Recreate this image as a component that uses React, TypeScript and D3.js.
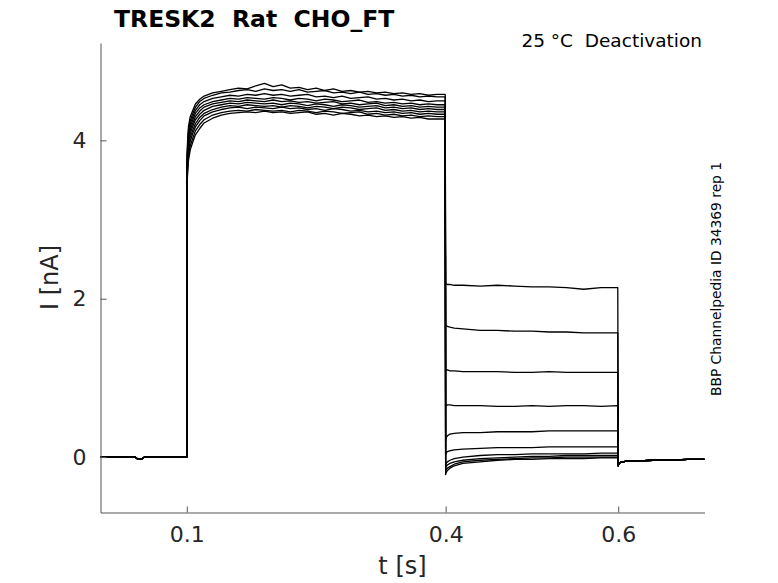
import { useEffect, useRef } from "react"
import * as d3 from "d3"

// time grids (s) for each protocol segment
const baseT = [0, 0.04, 0.043, 0.048, 0.051, 0.1]
const baseI = [0, 0, -0.025, -0.025, 0, 0]

const actT = [
  0.1, 0.1003, 0.101, 0.102, 0.104, 0.107, 0.11, 0.115, 0.12, 0.13, 0.14, 0.15, 0.16, 0.17, 0.18, 0.19,
  0.2, 0.21, 0.22, 0.23, 0.24, 0.25, 0.26, 0.27, 0.28, 0.29, 0.3, 0.31, 0.32, 0.33, 0.34, 0.35, 0.36,
  0.37, 0.38, 0.39, 0.3995,
]

const actI = [
  [3.52, 3.8, 4.02, 4.18, 4.3, 4.38, 4.46, 4.52, 4.56, 4.6, 4.62, 4.64, 4.66, 4.65, 4.69, 4.72, 4.68, 4.7, 4.66, 4.67, 4.64, 4.66, 4.63, 4.65, 4.62, 4.63, 4.61, 4.62, 4.6, 4.61, 4.59, 4.6, 4.58, 4.59, 4.57, 4.58, 4.58],
  [3.48, 3.74, 3.96, 4.12, 4.25, 4.34, 4.42, 4.49, 4.53, 4.57, 4.6, 4.61, 4.63, 4.64, 4.62, 4.65, 4.63, 4.64, 4.62, 4.64, 4.61, 4.62, 4.63, 4.6, 4.61, 4.59, 4.61, 4.58, 4.59, 4.57, 4.58, 4.56, 4.57, 4.55, 4.56, 4.55, 4.55],
  [3.45, 3.7, 3.92, 4.08, 4.21, 4.3, 4.38, 4.45, 4.49, 4.53, 4.55, 4.57, 4.56, 4.58, 4.57, 4.59, 4.57, 4.58, 4.56, 4.57, 4.58, 4.55, 4.56, 4.54, 4.56, 4.53, 4.54, 4.55, 4.52, 4.53, 4.51, 4.52, 4.5, 4.51, 4.49, 4.5, 4.5],
  [3.42, 3.66, 3.88, 4.04, 4.17, 4.26, 4.34, 4.41, 4.45, 4.49, 4.51, 4.53, 4.52, 4.54, 4.53, 4.52, 4.54, 4.53, 4.51, 4.53, 4.52, 4.5, 4.52, 4.51, 4.49, 4.5, 4.51, 4.48, 4.49, 4.47, 4.48, 4.46, 4.47, 4.45, 4.46, 4.45, 4.45],
  [3.4, 3.62, 3.84, 4.0, 4.13, 4.22, 4.3, 4.37, 4.42, 4.46, 4.48, 4.5, 4.49, 4.51, 4.5, 4.49, 4.51, 4.49, 4.5, 4.48, 4.49, 4.47, 4.48, 4.49, 4.46, 4.47, 4.45, 4.46, 4.47, 4.44, 4.45, 4.43, 4.44, 4.42, 4.43, 4.42, 4.42],
  [3.38, 3.58, 3.8, 3.96, 4.09, 4.18, 4.26, 4.33, 4.38, 4.43, 4.45, 4.47, 4.46, 4.48, 4.47, 4.46, 4.47, 4.45, 4.47, 4.46, 4.44, 4.46, 4.45, 4.43, 4.45, 4.44, 4.42, 4.43, 4.44, 4.41, 4.42, 4.4, 4.41, 4.39, 4.4, 4.39, 4.39],
  [3.36, 3.54, 3.75, 3.91, 4.04, 4.13, 4.21, 4.29, 4.34, 4.39, 4.42, 4.44, 4.43, 4.45, 4.44, 4.43, 4.44, 4.42, 4.44, 4.43, 4.41, 4.43, 4.42, 4.4, 4.42, 4.41, 4.39, 4.4, 4.41, 4.38, 4.39, 4.37, 4.38, 4.36, 4.37, 4.36, 4.36],
  [3.34, 3.5, 3.7, 3.86, 3.99, 4.09, 4.17, 4.25, 4.31, 4.36, 4.39, 4.41, 4.42, 4.4, 4.42, 4.41, 4.4, 4.42, 4.4, 4.41, 4.39, 4.4, 4.38, 4.4, 4.39, 4.37, 4.38, 4.36, 4.37, 4.35, 4.36, 4.34, 4.35, 4.33, 4.34, 4.33, 4.33],
  [3.32, 3.46, 3.65, 3.8, 3.93, 4.03, 4.12, 4.2, 4.26, 4.32, 4.35, 4.37, 4.38, 4.37, 4.39, 4.38, 4.37, 4.38, 4.36, 4.38, 4.37, 4.35, 4.37, 4.36, 4.34, 4.35, 4.36, 4.33, 4.34, 4.32, 4.33, 4.31, 4.32, 4.3, 4.31, 4.3, 4.3],
  [3.3, 3.42, 3.6, 3.75, 3.88, 3.98, 4.07, 4.15, 4.22, 4.28, 4.32, 4.34, 4.35, 4.36, 4.35, 4.37, 4.35, 4.36, 4.34, 4.35, 4.36, 4.33, 4.34, 4.32, 4.34, 4.33, 4.31, 4.32, 4.3, 4.31, 4.29, 4.3, 4.28, 4.29, 4.27, 4.27, 4.27],
]

const deactT = [0.4, 0.4005, 0.402, 0.405, 0.41, 0.42, 0.44, 0.46, 0.48, 0.5, 0.52, 0.54, 0.56, 0.58, 0.5995]

const deactI = [
  [2.2, 2.19, 2.18, 2.18, 2.17, 2.17, 2.16, 2.17, 2.16, 2.15, 2.15, 2.14, 2.12, 2.14, 2.14],
  [1.66, 1.66, 1.65, 1.64, 1.63, 1.62, 1.6, 1.6, 1.59, 1.59, 1.58, 1.58, 1.57, 1.57, 1.57],
  [1.1, 1.1, 1.1, 1.09, 1.09, 1.08, 1.08, 1.08, 1.07, 1.07, 1.08, 1.07, 1.07, 1.07, 1.07],
  [0.64, 0.65, 0.66, 0.66, 0.65, 0.65, 0.65, 0.64, 0.64, 0.65, 0.64, 0.65, 0.65, 0.64, 0.65],
  [0.2, 0.24, 0.27, 0.29, 0.3, 0.31, 0.31, 0.32, 0.32, 0.32, 0.33, 0.33, 0.33, 0.33, 0.33],
  [0.03, 0.05, 0.07, 0.08, 0.09, 0.1, 0.11, 0.12, 0.12, 0.12, 0.13, 0.13, 0.13, 0.13, 0.13],
  [-0.1, -0.08, -0.06, -0.04, -0.02, 0.0, 0.02, 0.03, 0.03, 0.04, 0.04, 0.04, 0.04, 0.05, 0.05],
  [-0.14, -0.12, -0.1, -0.08, -0.06, -0.04, -0.02, -0.01, 0.0, 0.01, 0.01, 0.02, 0.02, 0.02, 0.02],
  [-0.18, -0.16, -0.14, -0.12, -0.09, -0.06, -0.04, -0.03, -0.02, -0.01, -0.01, 0.0, 0.0, 0.0, 0.0],
  [-0.22, -0.2, -0.17, -0.14, -0.11, -0.08, -0.06, -0.04, -0.03, -0.03, -0.02, -0.02, -0.02, -0.01, -0.01],
]

const tailT = [0.6, 0.6005, 0.602, 0.605, 0.61, 0.62, 0.64, 0.66, 0.68, 0.7]
const tailI = [-0.11, -0.09, -0.07, -0.06, -0.05, -0.05, -0.04, -0.04, -0.03, -0.03]

const xTicks = [0.1, 0.4, 0.6]
const yTicks = [0, 2, 4]

const font = "DejaVu Sans"

export default function App() {
  const svgRef = useRef<SVGSVGElement>(null)

  useEffect(() => {
    if (!svgRef.current) return
    const svg = d3.select(svgRef.current)
    svg.selectAll("*").remove()

    const x = d3.scaleLinear().domain([0, 0.7]).range([100.5, 704.5])
    const y = d3.scaleLinear().domain([-0.7, 5.23]).range([512.5, 43])

    // build each sweep from its segments
    const sweeps = actI.map((a, k) => {
      const pts: [number, number][] = []
      baseT.forEach((t, i) => pts.push([t, baseI[i]]))
      actT.forEach((t, i) => pts.push([t, a[i]]))
      deactT.forEach((t, i) => pts.push([t, deactI[k][i]]))
      tailT.forEach((t, i) => pts.push([t, tailI[i]]))
      return pts
    })

    const line = d3
      .line<[number, number]>()
      .x((d) => x(d[0]))
      .y((d) => y(d[1]))

    svg
      .append("g")
      .selectAll("path")
      .data(sweeps)
      .enter()
      .append("path")
      .attr("d", line)
      .attr("fill", "none")
      .attr("stroke", "#000")
      .attr("stroke-width", 1.3)
      .attr("stroke-linejoin", "round")

    // axes, ticks pointing inward
    const xAxis = svg
      .append("g")
      .attr("transform", "translate(0,512.5)")
      .call(
        d3
          .axisBottom(x)
          .tickValues(xTicks)
          .tickFormat(d3.format(".1f"))
          .tickSizeInner(-6)
          .tickSizeOuter(0)
          .tickPadding(13.6)
      )
    const yAxis = svg
      .append("g")
      .attr("transform", "translate(100.5,0)")
      .call(
        d3
          .axisLeft(y)
          .tickValues(yTicks)
          .tickFormat(d3.format("d"))
          .tickSizeInner(-6)
          .tickSizeOuter(0)
          .tickPadding(14)
      )

    for (const ax of [xAxis, yAxis]) {
      ax.select(".domain").attr("stroke", "#555")
      ax.selectAll(".tick line").attr("stroke", "#555")
      ax.selectAll(".tick text")
        .attr("fill", "#262626")
        .attr("font-family", font)
        .attr("font-size", 22)
    }

    svg
      .append("text")
      .attr("x", 402.5)
      .attr("y", 574)
      .attr("text-anchor", "middle")
      .attr("font-family", font)
      .attr("font-size", 24)
      .attr("fill", "#262626")
      .text("t [s]")

    svg
      .append("text")
      .attr("transform", "translate(58,277.5) rotate(-90)")
      .attr("text-anchor", "middle")
      .attr("font-family", font)
      .attr("font-size", 24)
      .attr("fill", "#262626")
      .text("I [nA]")

    svg
      .append("text")
      .attr("x", 114)
      .attr("y", 26.7)
      .attr("font-family", font)
      .attr("font-weight", "bold")
      .attr("font-size", 23.5)
      .attr("fill", "#000")
      .style("white-space", "pre")
      .text("TRESK2  Rat  CHO_FT")

    svg
      .append("text")
      .attr("x", 702)
      .attr("y", 47)
      .attr("text-anchor", "end")
      .attr("font-family", font)
      .attr("font-size", 18.5)
      .attr("fill", "#000")
      .style("white-space", "pre")
      .text("25 °C  Deactivation")

    svg
      .append("text")
      .attr("transform", "translate(721,279) rotate(-90)")
      .attr("text-anchor", "middle")
      .attr("font-family", font)
      .attr("font-size", 13.8)
      .attr("fill", "#000")
      .text("BBP Channelpedia ID 34369 rep 1")
  }, [])

  return (
    <svg
      ref={svgRef}
      width={778}
      height={583}
      style={{ position: "absolute", left: 0, top: 0, background: "#fff" }}
    />
  )
}
